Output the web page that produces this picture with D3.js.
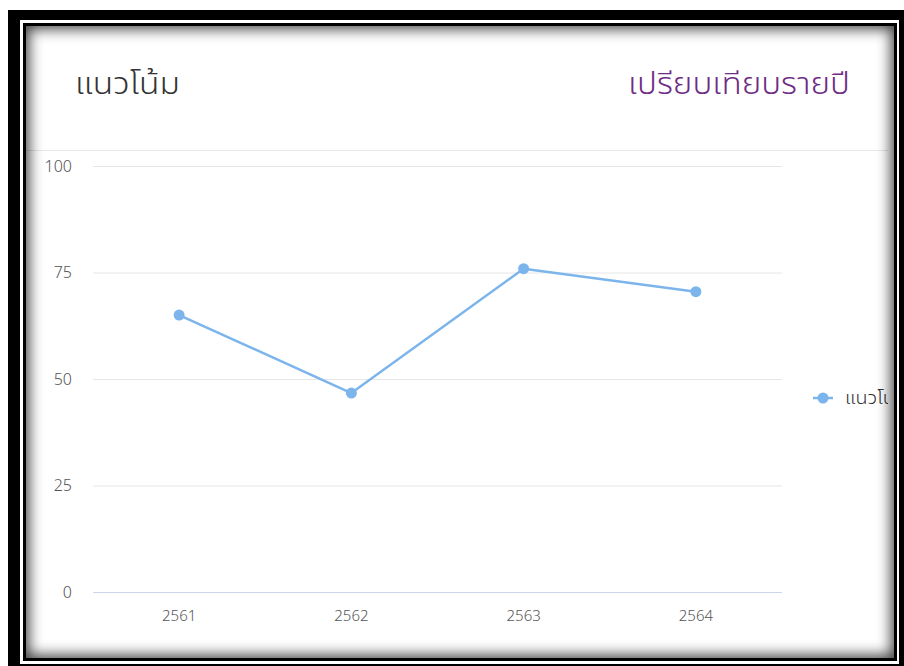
<!DOCTYPE html>
<html><head><meta charset="utf-8">
<script src="https://cdn.jsdelivr.net/npm/d3@7"></script>
<style>
html,body{margin:0;padding:0;background:#fff;width:904px;height:666px;overflow:hidden;}
#outer{position:absolute;left:8px;top:10px;width:896px;height:656px;background:#000;}
#gap{position:absolute;left:20px;top:20px;width:879px;height:644px;background:#fff;}
#inner{position:absolute;left:23px;top:23px;width:874px;height:638px;background:#000;}
#card{position:absolute;left:26px;top:26px;width:868px;height:632px;background:#fff;}
#shade{position:absolute;left:26px;top:26px;width:868px;height:632px;box-shadow:inset 0 0 14px 3px rgba(0,0,0,0.75);pointer-events:none;}
#chart{position:absolute;left:0;top:0;}
</style></head>
<body>
<div id="outer"></div><div id="gap"></div><div id="inner"></div><div id="card"></div>
<svg id="chart" width="904" height="666"></svg>
<div id="shade"></div>
<script>
const categories = ["2561", "2562", "2563", "2564"];
const values = [65, 46.7, 75.9, 70.5];
const yTicks = [0, 25, 50, 75, 100];
const seriesName = "แนวโน้ม";
const titleLeft = "แนวโน้ม";
const titleRight = "เปรียบเทียบรายปี";

const FONT = "'Noto Sans Thai','Noto Sans',sans-serif";
const svg = d3.select("#chart");

const plotL = 93, plotR = 782, plotT = 166, plotB = 592;
const x = d3.scaleBand().domain(categories).range([plotL, plotR]);
const y = d3.scaleLinear().domain([0, 100]).range([plotB, plotT]);
const cx = c => x(c) + x.bandwidth() / 2;

// header
svg.append("text").attr("x", 75).attr("y", 94).text(titleLeft)
  .attr("textLength", 105).attr("lengthAdjust", "spacingAndGlyphs")
  .attr("font-family", FONT).attr("font-size", 30).attr("font-weight", 300).attr("fill", "#333");
svg.append("text").attr("x", 628).attr("y", 94).text(titleRight)
  .attr("textLength", 222).attr("lengthAdjust", "spacingAndGlyphs")
  .attr("font-family", FONT).attr("font-size", 30).attr("font-weight", 300).attr("fill", "#6e2d84");
svg.append("line").attr("x1", 26).attr("x2", 888).attr("y1", 150.5).attr("y2", 150.5)
  .attr("stroke", "#e8e8e8").attr("stroke-width", 1);

// y axis / grid
const gy = svg.append("g").attr("transform", `translate(${plotL},0)`)
  .call(d3.axisLeft(y).tickValues(yTicks).tickSize(-(plotR - plotL)).tickPadding(21));
gy.select(".domain").remove();
gy.selectAll(".tick line").attr("stroke", d => d === 0 ? "#ccd6eb" : "#e6e6e6");
gy.selectAll(".tick text").attr("font-family", FONT).attr("font-size", 16).attr("font-weight", 300).attr("fill", "#555");

// x axis
const gx = svg.append("g").attr("transform", `translate(0,${plotB})`)
  .call(d3.axisBottom(x).tickSize(0).tickPadding(18));
gx.select(".domain").remove();
gx.selectAll(".tick text").attr("font-family", FONT).attr("font-size", 15).attr("font-weight", 300).attr("fill", "#555");

// series
const color = "#7cb5ec";
const pts = categories.map((c, i) => [cx(c), y(values[i])]);
svg.append("path").attr("d", d3.line()(pts)).attr("fill", "none")
  .attr("stroke", color).attr("stroke-width", 2.5).attr("stroke-linejoin", "round");
svg.selectAll("circle.pt").data(pts).enter().append("circle").attr("class", "pt")
  .attr("cx", d => d[0]).attr("cy", d => d[1]).attr("r", 5.5).attr("fill", color);

// legend (clipped at card edge)
svg.append("clipPath").attr("id", "clipc").append("rect")
  .attr("x", 0).attr("y", 0).attr("width", 888).attr("height", 666);
const lg = svg.append("g").attr("clip-path", "url(#clipc)");
lg.append("line").attr("x1", 813).attr("x2", 833).attr("y1", 398).attr("y2", 398)
  .attr("stroke", color).attr("stroke-width", 2.5);
lg.append("circle").attr("cx", 823).attr("cy", 398).attr("r", 5.5).attr("fill", color);
lg.append("text").attr("x", 845).attr("y", 404).text(seriesName)
  .attr("textLength", 62).attr("lengthAdjust", "spacingAndGlyphs")
  .attr("font-family", FONT).attr("font-size", 17).attr("font-weight", 300).attr("fill", "#333");
</script>
</body></html>
